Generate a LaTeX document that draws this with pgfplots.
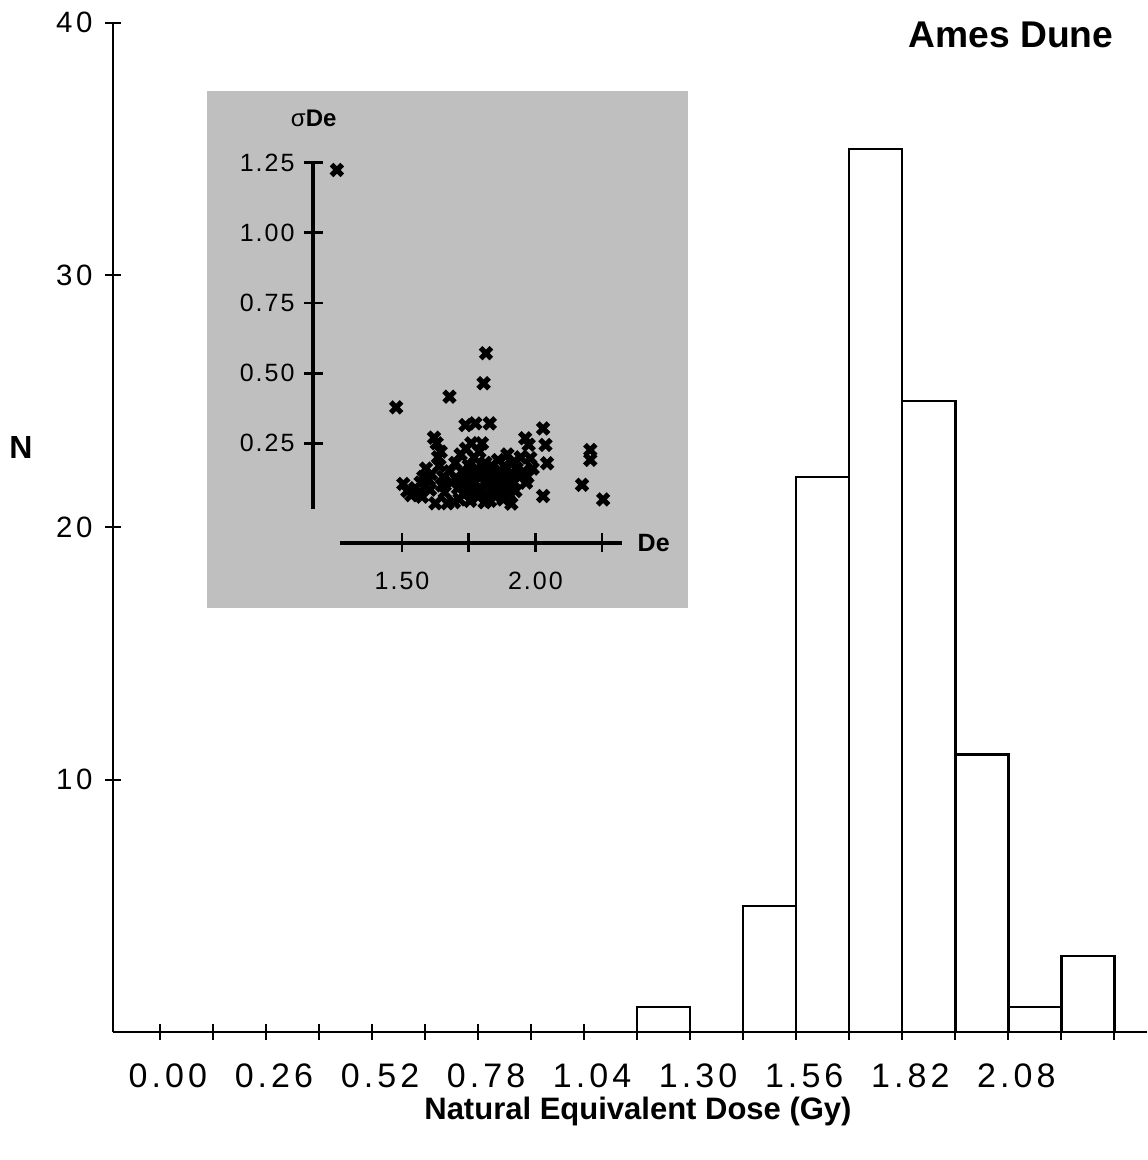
\documentclass[border=0pt]{standalone}
\usepackage{fontspec}
\setmainfont{Liberation Sans}
\newfontfamily\tickfont[LetterSpace=12]{Liberation Sans}
\newfontfamily\insetfont[LetterSpace=8]{Liberation Sans}
\usepackage{pgfplots}
\pgfplotsset{compat=1.18}
\begin{document}
\begin{tikzpicture}
\useasboundingbox (-56.5pt,-64pt) rectangle (517pt,516pt);
\begin{axis}[
  at={(0pt,0pt)}, anchor=south west,
  scale only axis, width=517pt, height=504.7pt,
  xmin=-0.115, xmax=2.42, ymin=0, ymax=40,
  enlargelimits=false, clip=false,
  axis x line*=bottom, axis y line*=left,
  axis line style={line width=1.3pt, black},
  tick align=center, major tick length=7.5pt,
  every tick/.style={black, line width=1pt},
  xtick={0,0.13,0.26,0.39,0.52,0.65,0.78,0.91,1.04,1.17,1.30,1.43,1.56,1.69,1.82,1.95,2.08,2.21,2.34},
  xticklabels={0.00,,0.26,,0.52,,0.78,,1.04,,1.30,,1.56,,1.82,,2.08,,},
  ytick={10,20,30,40},
  yticklabels={10,20,30,40},
  xticklabel style={font=\tickfont\fontsize{17}{18}\selectfont, xshift=4pt, yshift=-8.5pt},
  yticklabel style={font=\tickfont\fontsize{14.7}{16}\selectfont, xshift=-3pt},
  xlabel={Natural Equivalent Dose (Gy)},
  xlabel style={at={(axis description cs:0.5077,-0.079)}, anchor=center, font=\bfseries\fontsize{15.5}{17}\selectfont},
  ylabel={N},
  ylabel style={at={(axis description cs:-0.089,0.5786)}, anchor=center, rotate=-90, font=\bfseries\fontsize{16}{18}\selectfont},
  title={Ames Dune},
  title style={at={(axis description cs:0.8685,0.9759)}, anchor=center, font=\bfseries\fontsize{18.6}{20}\selectfont},
]
\addplot[ybar interval, draw=black, fill=white, line width=1.2pt] coordinates {
  (1.17,1) (1.30,0) (1.43,5) (1.56,22) (1.69,35) (1.82,25) (1.95,11) (2.08,1) (2.21,3) (2.34,3)
};
\end{axis}
\fill[gray!50] (47pt,212pt) rectangle (287.5pt,470.5pt);
\begin{axis}[
  at={(100pt,244.5pt)}, anchor=south west,
  scale only axis, width=154.5pt, height=190.15pt,
  xmin=1.1663, xmax=2.3249, ymin=-0.1053, ymax=1.25,
  enlargelimits=false, clip=false,
  axis x line*=bottom, axis y line*=left,
  axis line style={draw=none},
  tick align=center, major tick length=9.5pt,
  every tick/.style={black, line width=1.4pt},
  xtick={1.5,1.75,2.0,2.25},
  xticklabels={1.50,,2.00,},
  ytick={0.25,0.5,0.75,1.0,1.25},
  yticklabels={0.25,0.50,0.75,1.00,1.25},
  xticklabel style={font=\insetfont\fontsize{12.5}{14}\selectfont, yshift=-6pt},
  yticklabel style={font=\insetfont\fontsize{12.5}{14}\selectfont, xshift=-1pt},
]
\draw[line width=1.6pt] (axis cs:1.2664,-0.1053) -- (axis cs:2.3249,-0.1053);
\draw[line width=1.6pt] (axis cs:1.1663,0.0148) -- (axis cs:1.1663,1.25);
\addplot[only marks, mark=x, mark size=3.8pt, mark options={line width=2.6pt, black}] coordinates {
(1.256,1.224)
(1.478,0.378) (1.505,0.105) (1.52,0.080) (1.535,0.065) (1.55,0.090)
(1.565,0.075) (1.57,0.11) (1.575,0.06) (1.58,0.13) (1.585,0.095) (1.59,0.16) (1.60,0.12) (1.605,0.085) (1.61,0.14) (1.62,0.27) (1.625,0.036) (1.63,0.25) (1.635,0.20) (1.64,0.17) (1.645,0.22) (1.65,0.10) (1.655,0.13) (1.66,0.075) (1.67,0.036) (1.678,0.416) (1.68,0.15) (1.685,0.11)
(1.695,0.04) (1.70,0.18) (1.705,0.12) (1.71,0.09) (1.715,0.05) (1.72,0.21) (1.725,0.15) (1.73,0.07) (1.735,0.13) (1.738,0.315) (1.74,0.23) (1.745,0.10) (1.75,0.17) (1.755,0.045) (1.76,0.25) (1.76,0.14) (1.765,0.08) (1.77,0.20) (1.775,0.321) (1.775,0.11) (1.78,0.16) (1.785,0.06) (1.79,0.22) (1.79,0.13) (1.795,0.09) (1.80,0.25) (1.80,0.15) (1.806,0.464) (1.81,0.04) (1.81,0.11) (1.812,0.18) (1.815,0.571) (1.815,0.07) (1.818,0.14) (1.819,0.10)
(1.825,0.12) (1.829,0.321) (1.83,0.045) (1.835,0.17) (1.84,0.09) (1.845,0.14) (1.85,0.06) (1.855,0.11) (1.86,0.19) (1.865,0.08) (1.87,0.15) (1.875,0.12) (1.88,0.05) (1.885,0.17) (1.89,0.10) (1.895,0.21) (1.90,0.07) (1.905,0.14) (1.91,0.035) (1.915,0.18) (1.92,0.11) (1.925,0.08) (1.93,0.16) (1.94,0.13) (1.945,0.20)
(1.955,0.15) (1.962,0.268) (1.965,0.11) (1.97,0.13) (1.975,0.245) (1.981,0.197) (1.99,0.16) (2.029,0.303) (2.038,0.244) (2.044,0.179) (2.029,0.062)
(2.175,0.102)
(2.206,0.226) (2.206,0.191) (2.254,0.050)
};
\end{axis}
\node[anchor=center, font=\fontsize{12}{14}\selectfont] at (100.35pt,456.85pt) {σ\textbf{De}};
\node[anchor=center, font=\bfseries\fontsize{12.5}{14}\selectfont] at (270.35pt,244.35pt) {De};
\end{tikzpicture}
\end{document}
